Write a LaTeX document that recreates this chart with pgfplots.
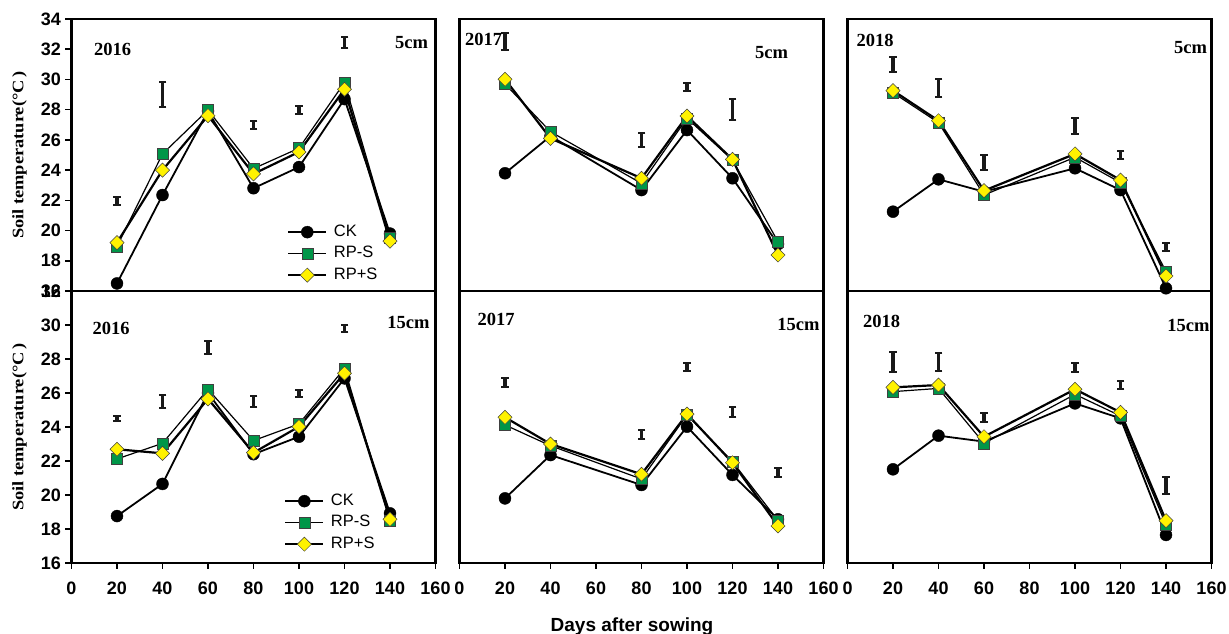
\documentclass[border=0pt]{standalone}
\usepackage{fontspec}
\setmainfont{Liberation Serif}
\setsansfont{Liberation Sans}
\usepackage{pgfplots}
\pgfplotsset{compat=1.18}
\definecolor{rpsgreen}{RGB}{0,150,72}
\definecolor{rpyellow}{RGB}{255,242,0}
\newcommand\xtickf{\sffamily\bfseries\fontsize{18}{18}\selectfont}
\newcommand\ytickf{\sffamily\bfseries\fontsize{18}{18}\selectfont}
\newcommand\panelf{\rmfamily\bfseries\fontsize{18.5}{18.5}\selectfont}
\newcommand\legf{\sffamily\fontsize{16.5}{16.5}\selectfont}
\pgfplotsset{
  panel/.style={
    scale only axis, width=364pt, height=272pt, anchor=south west,
    xmin=0, xmax=160, unbounded coords=jump,
    axis line style={line width=2.6pt},
    tick align=outside, major tick length=6pt,
    tick style={line width=1.6pt, black},
    xtick pos=bottom, ytick pos=left,
    /pgf/number format/assume math mode=true,
    xticklabel style={font=\xtickf, yshift=-9pt},
    yticklabel style={font=\ytickf, xshift=-1pt},
    every axis y label/.style={at={(axis description cs:0,0.5)}, xshift=-52pt, rotate=90, anchor=center,
      font=\rmfamily\bfseries\fontsize{16}{16}\selectfont},
    legend image code/.code={\draw[mark repeat=2,mark phase=2] plot coordinates {(0pt,0pt) (19pt,0pt) (38pt,0pt)};},
    legend cell align=left,
  },
  toprow/.style={panel, ymin=16, ymax=34, ytick={16,18,...,34}, xtick=\empty},
  botrow/.style={panel, ymin=16, ymax=32, ytick={16,18,...,32}, xtick={0,20,...,160}},
  noy/.style={ytick=\empty},
  ck/.style={black, line width=1.8pt, mark=*, mark size=6pt, mark options={fill=black, draw=black, line width=0.4pt}},
  rps/.style={black, line width=1.2pt, mark=square*, mark size=5.5pt, mark options={fill=rpsgreen, draw=black!75, line width=0.5pt}},
  rpp/.style={black, line width=2.2pt, mark=square*, mark size=5pt, mark options={rotate=45, fill=rpyellow, draw=black!75, line width=0.5pt}},
  eb/.style={black!90, line width=3.6pt, forget plot, mark=-, mark size=3.8pt, mark options={line width=2pt}},
  leg/.style={legend style={draw=none, fill=none, at={#1}, anchor=north west, inner sep=0pt,
    row sep=2.5pt, column sep=5pt, font=\legf, nodes={inner sep=1.5pt, text height=12pt, text depth=4pt}}},
}
\begin{document}
\begin{tikzpicture}[x=1pt,y=1pt]
\useasboundingbox (0,0) rectangle (1229,634);
% ---------- 2016 5cm
\begin{axis}[toprow, at={(71.5pt,343pt)}, ylabel={\scalebox{1.15}[1]{Soil temperature(\textdegree C\,)}}, leg={(0.592,0.252)}]
\addplot[ck] coordinates {(20,16.5)(40,22.35)(60,27.9)(80,22.8)(100,24.2)(120,28.7)(140,19.8)};
\addplot[rps] coordinates {(20,18.95)(40,25.07)(60,27.98)(80,24.1)(100,25.45)(120,29.8)(140,19.5)};
\addplot[rpp] coordinates {(20,19.2)(40,24.0)(60,27.6)(80,23.75)(100,25.2)(120,29.35)(140,19.3)};
\addplot[eb] coordinates {(20,21.7)(20,22.24)(20,nan) (40,28.15)(40,29.85)(40,nan) (80,26.7)(80,27.26)(80,nan) (100,27.7)(100,28.24)(100,nan) (120,32.05)(120,32.79)};
\legend{CK,RP-S,RP+S}
\end{axis}
% ---------- 2017 5cm
\begin{axis}[toprow, noy, at={(459.5pt,343pt)}]
\addplot[ck] coordinates {(20,23.79)(40,26.25)(80,22.68)(100,26.65)(120,23.46)(140,19.1)};
\addplot[rps] coordinates {(20,29.7)(40,26.54)(80,23.12)(100,27.43)(120,24.67)(140,19.26)};
\addplot[rpp] coordinates {(20,30.01)(40,26.1)(80,23.46)(100,27.58)(120,24.71)(140,18.38)};
\addplot[eb] coordinates {(20,31.95)(20,33.05)(20,nan) (80,25.56)(80,26.48)(80,nan) (100,29.26)(100,29.74)(100,nan) (120,27.32)(120,28.68)};
\end{axis}
% ---------- 2018 5cm
\begin{axis}[toprow, noy, at={(847.5pt,343pt)}]
\addplot[ck] coordinates {(20,21.25)(40,23.39)(60,22.57)(100,24.12)(120,22.68)(140,16.18)};
\addplot[rps] coordinates {(20,29.12)(40,27.14)(60,22.35)(100,24.85)(120,23.17)(140,17.28)};
\addplot[rpp] coordinates {(20,29.26)(40,27.27)(60,22.64)(100,25.07)(120,23.34)(140,16.99)};
\addplot[eb] coordinates {(20,30.51)(20,31.47)(20,nan) (40,28.87)(40,30.03)(40,nan) (60,24.0)(60,25.0)(60,nan) (100,26.39)(100,27.43)(100,nan) (120,24.73)(120,25.27)(120,nan) (140,18.66)(140,19.2)};
\end{axis}
% ---------- 2016 15cm
\begin{axis}[botrow, at={(71.5pt,71pt)}, ylabel={\scalebox{1.15}[1]{Soil temperature(\textdegree C\,)}}, leg={(0.584,0.263)}]
\addplot[ck] coordinates {(20,18.76)(40,20.65)(60,26.0)(80,22.4)(100,23.43)(120,26.86)(140,18.92)};
\addplot[rps] coordinates {(20,22.12)(40,23.04)(60,26.22)(80,23.2)(100,24.18)(120,27.45)(140,18.49)};
\addplot[rpp] coordinates {(20,22.69)(40,22.45)(60,25.65)(80,22.49)(100,24.02)(120,27.16)(140,18.57)};
\addplot[eb] coordinates {(20,24.35)(20,24.65)(20,nan) (40,25.1)(40,25.88)(40,nan) (60,28.3)(60,29.06)(60,nan) (80,25.16)(80,25.84)(80,nan) (100,25.78)(100,26.18)(100,nan) (120,29.57)(120,30.01)};
\legend{CK,RP-S,RP+S}
\end{axis}
% ---------- 2017 15cm
\begin{axis}[botrow, noy, at={(459.5pt,71pt)}]
\addplot[ck] coordinates {(20,19.8)(40,22.35)(80,20.59)(100,24.02)(120,21.18)(140,18.57)};
\addplot[rps] coordinates {(20,24.12)(40,22.9)(80,20.94)(100,24.71)(120,21.96)(140,18.49)};
\addplot[rpp] coordinates {(20,24.57)(40,23.0)(80,21.22)(100,24.76)(120,21.9)(140,18.18)};
\addplot[eb] coordinates {(20,26.36)(20,26.9)(20,nan) (80,23.27)(80,23.83)(80,nan) (100,27.31)(100,27.79)(100,nan) (120,24.57)(120,25.19)(120,nan) (140,21.08)(140,21.58)};
\end{axis}
% ---------- 2018 15cm
\begin{axis}[botrow, noy, at={(847.5pt,71pt)}]
\addplot[ck] coordinates {(20,21.51)(40,23.49)(60,23.14)(100,25.39)(120,24.51)(140,17.65)};
\addplot[rps] coordinates {(20,26.08)(40,26.27)(60,23.04)(100,25.92)(120,24.65)(140,18.24)};
\addplot[rpp] coordinates {(20,26.33)(40,26.47)(60,23.43)(100,26.22)(120,24.86)(140,18.49)};
\addplot[eb] coordinates {(20,27.25)(20,28.43)(20,nan) (40,27.31)(40,28.37)(40,nan) (60,24.31)(60,24.85)(60,nan) (100,27.25)(100,27.79)(100,nan) (120,26.22)(120,26.72)(120,nan) (140,20.06)(140,21.04)};
\end{axis}
% ---------- panel labels
\node[font=\panelf] at (112.5,585) {2016};
\node[font=\panelf] at (411.5,591) {5cm};
\node[font=\panelf] at (111,306) {2016};
\node[font=\panelf] at (408.5,312) {15cm};
\node[font=\panelf] at (483.5,595) {2017};
\node[font=\panelf] at (771.5,581) {5cm};
\node[font=\panelf] at (496,315) {2017};
\node[font=\panelf] at (798.5,310) {15cm};
\node[font=\panelf] at (875,594) {2018};
\node[font=\panelf] at (1190.5,586) {5cm};
\node[font=\panelf] at (881.5,313) {2018};
\node[font=\panelf] at (1188.5,309) {15cm};
\node[font=\sffamily\bfseries\fontsize{19}{19}\selectfont, anchor=base, inner sep=0pt] at (632,2) {Days after sowing};
\end{tikzpicture}
\end{document}
